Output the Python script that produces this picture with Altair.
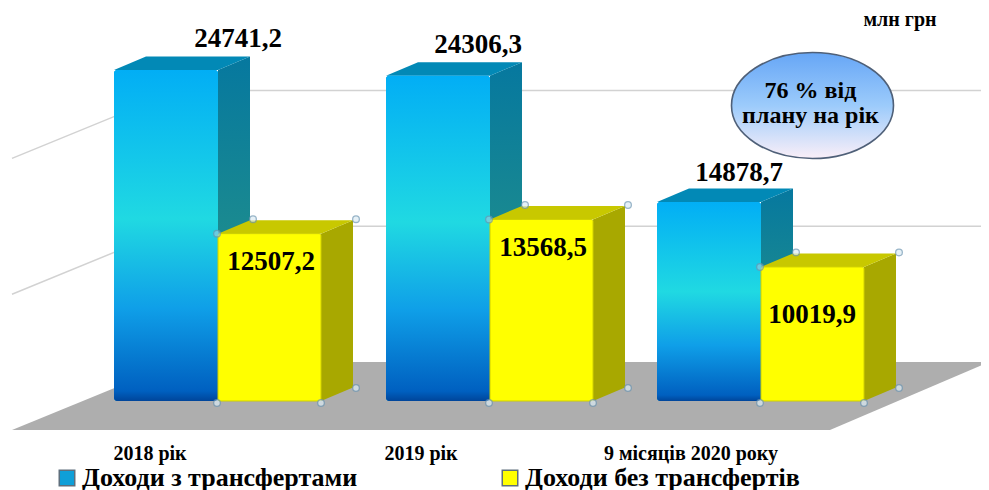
import altair as alt
import pandas as pd

# ---------- data ----------
periods = ["2018 рік", "2019 рік", "9 місяців 2020 року"]
with_transfers = [24741.2, 24306.3, 14878.7]
without_transfers = [12507.2, 13568.5, 10019.9]
series_names = ["Доходи з трансфертами", "Доходи без трансфертів"]
grid_values = [10000, 20000]
unit_text = "млн грн"
note_lines = ["76 % від", "плану на рік"]

# ---------- layout ----------
W, H = 973, 482
K = 0.01338           # px per unit of value
ZERO_PX = 393         # plot-area y of value 0
DX, DY = 32, 13.5     # depth of the pseudo-3D projection
BLUE_W, YEL_W = 104, 103
blue_left = [106, 378, 649]
yel_left = [210, 482, 753]
blue_lab_dx = [124, 92, 82]
blue_lab_up = [23, 23, 21]
yel_lab_dx = [53, 53, 51]
yel_lab_down = [36, 37, 56]
period_x = [142, 413, 683]
FONT = "Liberation Serif"


def u(px):
    return px / K


def val(py):  # plot-area y -> value
    return (ZERO_PX - py) / K


xs = alt.Scale(domain=[0, W], range=[0, W], nice=False, zero=False)
ys = alt.Scale(domain=[val(H), val(0)], range=[H, 0], nice=False, zero=False)
X = lambda f: alt.X(f, type="quantitative", scale=xs, axis=None)
Y = lambda f: alt.Y(f, type="quantitative", scale=ys, axis=None)


def grad(stops):
    return alt.Gradient(gradient="linear", x1=0, y1=0, x2=0, y2=1,
                        stops=[alt.GradientStop(offset=o, color=c) for o, c in stops])


# ---------- wall + floor ----------
grid_rows = []
for g in grid_values:
    back = u(39) + g * 1.015
    grid_rows += [
        dict(g=g, x=4, y=back - u(68)),
        dict(g=g, x=170, y=back),
        dict(g=g, x=981, y=back),
    ]
grid = alt.Chart(pd.DataFrame(grid_rows)).mark_line(color="#d2d2d2", strokeWidth=1.5, clip=True).encode(
    x=X("x"), y=Y("y"), detail="g:N", order="x:Q")

floor_df = pd.DataFrame([
    dict(y=val(422), x=4, x2=822),
    dict(y=val(354), x=170, x2=981),
])
floor = alt.Chart(floor_df).mark_area(orient="horizontal", color="#aeaeae", clip=True).encode(
    y=Y("y"), x=X("x"), x2="x2:Q")


# ---------- pseudo-3D faces ----------
def faces(lefts, width, values, prefix):
    side, top = [], []
    for i, (l, v) in enumerate(zip(lefts, values)):
        r = l + width
        side += [dict(b=f"{prefix}{i}", x=r, y=v, y2=0),
                 dict(b=f"{prefix}{i}", x=r + DX, y=v + u(DY), y2=u(DY))]
        top += [dict(b=f"{prefix}{i}", y=v, x=l, x2=r),
                dict(b=f"{prefix}{i}", y=v + u(DY), x=l + DX, x2=r + DX)]
    return pd.DataFrame(side), pd.DataFrame(top)


blue_side, blue_top = faces(blue_left, BLUE_W, with_transfers, "b")
yel_side, yel_top = faces(yel_left, YEL_W, without_transfers, "y")


def side_layer(df, fill):
    return alt.Chart(df).mark_area(color=fill).encode(x=X("x"), y=Y("y"), y2="y2:Q", detail="b:N")


def top_layer(df, fill):
    return alt.Chart(df).mark_area(orient="horizontal", color=fill).encode(
        y=Y("y"), x=X("x"), x2="x2:Q", detail="b:N")


front_rows = []
for i, p in enumerate(periods):
    front_rows.append(dict(series=series_names[0], period=p, x=blue_left[i], x2=blue_left[i] + BLUE_W,
                           v=with_transfers[i], zero=0))
    front_rows.append(dict(series=series_names[1], period=p, x=yel_left[i], x2=yel_left[i] + YEL_W,
                           v=without_transfers[i], zero=0))
front_df = pd.DataFrame(front_rows)

# solid bars carry the colour encoding and hence the legend
front = alt.Chart(front_df).mark_bar(cornerRadius=3).encode(
    x=X("x"), x2="x2:Q", y=Y("v"), y2="zero:Q",
    color=alt.Color("series:N",
                    scale=alt.Scale(domain=series_names, range=["#0f9fd8", "#ffff00"]),
                    sort=series_names,
                    legend=alt.Legend(title=None, orient="none", legendX=46, legendY=457,
                                      direction="horizontal", columns=2, columnPadding=139,
                                      symbolType="square", symbolSize=240,
                                      symbolStrokeColor="#5f6f7c", symbolStrokeWidth=1.5,
                                      labelFont=FONT, labelFontSize=26, labelFontWeight="bold",
                                      labelColor="#000000", labelLimit=0, labelOffset=2,
                                      padding=0)),
)
blue_grad = grad([(0, "#02aef5"), (0.45, "#20d9e2"), (0.72, "#0f9fe8"), (0.97, "#0060c0"), (1, "#00459a")])
front_blue = alt.Chart(front_df[front_df.series == series_names[0]]).mark_bar(
    cornerRadius=3, color=blue_grad).encode(x=X("x"), x2="x2:Q", y=Y("v"), y2="zero:Q")

side_grad = grad([(0, "#06789f"), (0.5, "#1a8a90"), (1, "#06749f")])

# ---------- handles ----------
handle_rows = []
for l, v in zip(yel_left, without_transfers):
    r = l + YEL_W
    for hx, hy, kind in [(l - 1, v, "f"), (l + DX + 3, v + u(DY) + u(1), "b"), (r + DX + 3, v + u(DY) + u(1), "b"),
                         (l - 1, u(-2), "b"), (r, u(-2), "b"), (r + DX + 3, u(13), "b")]:
        handle_rows.append(dict(x=hx, y=hy, kind=kind))
handles_df = pd.DataFrame(handle_rows)
handles = alt.Chart(handles_df).mark_point(filled=True, size=45, stroke="#6f97b3", strokeWidth=1.3).encode(
    x=X("x"), y=Y("y"),
    fill=alt.Fill("kind:N", scale=alt.Scale(domain=["f", "b"], range=["#8ccbe0", "#dcecf4"]), legend=None),
)

# ---------- texts ----------
lab_rows = []
for i in range(3):
    lab_rows.append(dict(x=blue_left[i] + blue_lab_dx[i], y=with_transfers[i] + u(blue_lab_up[i]),
                         t=str(with_transfers[i]).replace(".", ",")))
    lab_rows.append(dict(x=yel_left[i] + yel_lab_dx[i], y=without_transfers[i] - u(yel_lab_down[i]),
                         t=str(without_transfers[i]).replace(".", ",")))
value_labels = alt.Chart(pd.DataFrame(lab_rows)).mark_text(
    font=FONT, fontSize=27, fontWeight="bold", color="#000000", baseline="alphabetic").encode(
    x=X("x"), y=Y("y"), text="t:N")

period_df = pd.DataFrame(dict(x=period_x, y=[val(452)] * 3, t=periods))
period_labels = alt.Chart(period_df).mark_text(
    font=FONT, fontSize=20, fontWeight="bold", color="#000000", baseline="alphabetic").encode(
    x=X("x"), y=Y("y"), text="t:N")

unit_df = pd.DataFrame(dict(x=[892], y=[val(18)], t=[unit_text]))
unit_label = alt.Chart(unit_df).mark_text(
    font=FONT, fontSize=20, fontWeight="bold", color="#000000", baseline="alphabetic").encode(
    x=X("x"), y=Y("y"), text="t:N")

# ---------- note bubble ----------
bubble_df = pd.DataFrame(dict(x=[804.5], y=[val(97.5)]))
bubble = alt.Chart(bubble_df).mark_point(
    filled=True, size=26244,
    shape="M-1,0 A1,0.654 0 1,1 1,0 A1,0.654 0 1,1 -1,0 Z",
    fill=grad([(0, "#66a6f6"), (0.5, "#9ccbfb"), (1, "#faeff8")]),
    stroke="#4f6078", strokeWidth=1.6, opacity=1,
).encode(x=X("x"), y=Y("y"))

note_df = pd.DataFrame(dict(x=[802.5, 802.5], y=[val(90), val(115)], t=note_lines))
note = alt.Chart(note_df).mark_text(
    font=FONT, fontSize=24, fontWeight="bold", color="#000000", baseline="alphabetic").encode(
    x=X("x"), y=Y("y"), text="t:N")

chart = alt.layer(
    grid, floor,
    side_layer(blue_side, side_grad), top_layer(blue_top, "#0289b6"),
    front, front_blue,
    side_layer(yel_side, "#a8a800"), top_layer(yel_top, "#c8c800"),
    alt.Chart(front_df[front_df.series == series_names[1]]).mark_bar(
        cornerRadius=2, color="#ffff00", stroke="#d0d000", strokeWidth=1
    ).encode(x=X("x"), x2="x2:Q", y=Y("v"), y2="zero:Q"),
    handles, value_labels, period_labels, unit_label, bubble, note,
).resolve_scale(fill="independent").properties(
    width=W, height=H, padding=0, autosize=alt.AutoSizeParams(type="none"),
).configure_view(stroke=None)

chart.save("out.html", embed_options={"renderer": "svg", "actions": False})
